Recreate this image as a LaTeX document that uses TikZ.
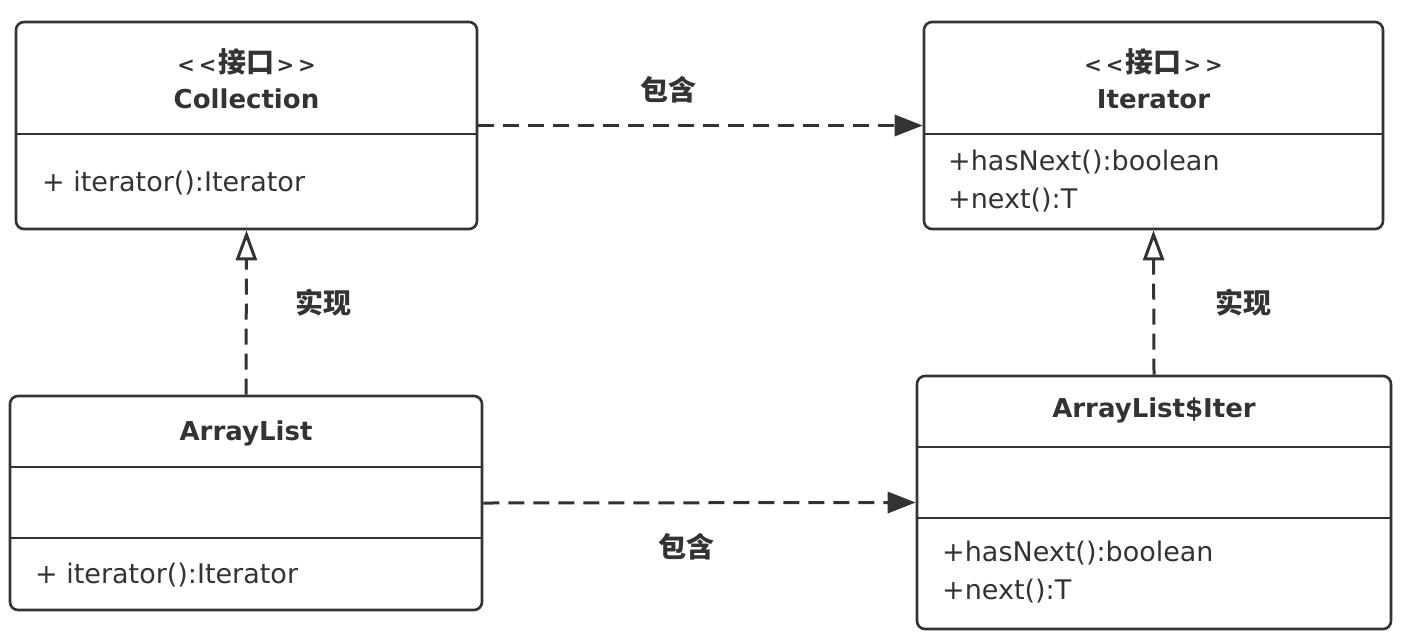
\documentclass[tikz,border=0pt]{standalone}
\usepackage{fontspec}
\setmainfont{DejaVu Sans}
\newfontfamily\cjk{Noto Sans CJK SC}
\usetikzlibrary{arrows.meta}
\definecolor{ink}{HTML}{333333}
\tikzset{
  box/.style={draw=ink, line width=2.6pt, rounded corners=8pt, inner sep=0pt},
  div/.style={draw=ink, line width=2.6pt},
  ttl/.style={text=ink, font=\fontsize{26}{30}\selectfont\bfseries, align=center, inner sep=0pt},
  mth/.style={text=ink, font=\fontsize{27}{38}\selectfont, align=left, anchor=west, inner sep=0pt},
  lbl/.style={text=ink, font=\fontsize{28}{30}\selectfont\cjk\bfseries, inner sep=0pt},
  dep/.style={draw=ink, line width=3pt, dash pattern=on 16pt off 9pt, -{Triangle[length=28pt,width=21pt,fill=ink]}},
  real/.style={draw=ink, line width=3pt, dash pattern=on 16pt off 9pt, -{Triangle[open,length=30pt,width=21pt,fill=white,line width=3pt]}}
}
\newcommand{\stereo}[1]{{\fontsize{21}{30}\selectfont{<}\kern4pt{<}}\kern2pt{\fontsize{28}{30}\selectfont\cjk #1}\kern2pt{\fontsize{21}{30}\selectfont{>}\kern4pt{>}}}
\begin{document}
\begin{tikzpicture}[x=1pt,y=-1pt]
\useasboundingbox (0,0) rectangle (1410,638);
% boxes
\node[box, minimum width=461pt, minimum height=207pt] (coll) at (246.5,125.5) {};
\node[box, minimum width=459pt, minimum height=207pt] (iter) at (1153.5,125.5) {};
\node[box, minimum width=472pt, minimum height=214pt] (al) at (246,503) {};
\node[box, minimum width=474pt, minimum height=253pt] (ait) at (1154,502.5) {};
% dividers
\draw[div] (coll.west |- 0,134) -- (coll.east |- 0,134);
\draw[div] (iter.west |- 0,134) -- (iter.east |- 0,134);
\draw[div] (al.west |- 0,467) -- (al.east |- 0,467);
\draw[div] (al.west |- 0,538) -- (al.east |- 0,538);
\draw[div] (ait.west |- 0,447) -- (ait.east |- 0,447);
\draw[div] (ait.west |- 0,518) -- (ait.east |- 0,518);
% titles
\node[ttl] (collS) at (246.5,62) {\stereo{接口}};
\node[ttl] (collN) at (246.5,99) {Collection};
\node[ttl] (iterS) at (1153.5,62) {\stereo{接口}};
\node[ttl] (iterN) at (1153.5,99) {Iterator};
\node[ttl] (alN) at (246,433) {ArrayList};
\node[ttl] (aitN) at (1154,410) {ArrayList\$Iter};
% methods
\node[mth] (collM) at (42,183) {+ iterator():Iterator};
\node[mth] (iterM1) at (948,162) {+hasNext():boolean};
\node[mth] (iterM2) at (948,200) {+next():T};
\node[mth] (alM) at (35,575) {+ iterator():Iterator};
\node[mth] (aitM1) at (942,553) {+hasNext():boolean};
\node[mth] (aitM2) at (942,591) {+next():T};
% connectors
\draw[dep] (coll.east) -- (iter.west);
\draw[dep] (al.east) -- (ait.west);
\draw[real] (al.north) -- (coll.south);
\draw[real] (ait.north) -- (iter.south);
% labels
\node[lbl] (l1) at (668,90) {包含};
\node[lbl] (l2) at (686,547) {包含};
\node[lbl] (l3) at (323,303) {实现};
\node[lbl] (l4) at (1243,303) {实现};
\end{tikzpicture}
\end{document}
